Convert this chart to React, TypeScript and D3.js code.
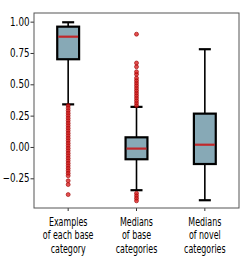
import React, { useEffect, useRef } from 'react';
import * as d3 from 'd3';

const categories = ['Examples\nof each base\ncategory', 'Medians\nof base\ncategories', 'Medians\nof novel\ncategories'];
const whiskerLow = [0.34, -0.345, -0.425];
const q1 = [0.70, -0.098, -0.136];
const medians = [0.88, -0.013, 0.018];
const q3 = [0.96, 0.077, 0.266];
const whiskerHigh = [0.995, 0.32, 0.78];
const outliersBase = [
  0.33, 0.31, 0.29, 0.27, 0.25, 0.23, 0.21, 0.19, 0.17, 0.15, 0.13, 0.11, 0.09, 0.07, 0.05, 0.03,
  0.01, -0.01, -0.03, -0.05, -0.07, -0.09, -0.11, -0.13, -0.15, -0.17, -0.19, -0.21, -0.23, -0.27,
  -0.30, -0.38,
];
const outliersBaseMedians = [
  0.33, 0.35, 0.37, 0.39, 0.41, 0.43, 0.45, 0.47, 0.49, 0.51, 0.53, 0.55, 0.58, 0.60, 0.64, 0.67,
  0.90, -0.37, -0.39, -0.41, -0.43,
];
const outliersNovel: number[] = [];
const outliers = [outliersBase, outliersBaseMedians, outliersNovel];
const yTicks = [-0.25, 0, 0.25, 0.5, 0.75, 1.0];

const App = () => {
  const ref = useRef<SVGSVGElement>(null);

  useEffect(() => {
    const svg = d3.select(ref.current);
    svg.selectAll('*').remove();

    const left = 34, right = 239, top = 13, bottom = 208;
    const font = '"DejaVu Sans", sans-serif';

    const x = d3.scaleBand().domain(categories).range([left, right]).padding(0);
    const y = d3.scaleLinear().domain([-0.487, 1.069]).range([bottom, top]);
    const boxW = x.bandwidth() * 0.32;
    const capW = boxW * 0.55;

    // y axis ticks, labels squeezed horizontally like the source image
    const yAxis = svg.append('g')
      .attr('transform', `translate(${left},0)`)
      .call(d3.axisLeft(y).tickValues(yTicks).tickSize(3.5).tickFormat(() => ''));
    yAxis.select('.domain').remove();
    yAxis.selectAll('line').attr('stroke', '#333');

    yTicks.forEach(v => {
      svg.append('g')
        .attr('transform', `translate(29.5,${y(v)}) scale(0.76,1)`)
        .append('text')
        .attr('text-anchor', 'end').attr('dy', '0.36em')
        .style('font-family', font).style('font-size', '11.5px').attr('fill', '#000')
        .text(d3.format('.2f')(v).replace('-', '\u2212'));
    });

    // x axis
    const xAxis = svg.append('g')
      .attr('transform', `translate(0,${bottom})`)
      .call(d3.axisBottom(x).tickSize(3).tickFormat(() => ''));
    xAxis.select('.domain').remove();
    xAxis.selectAll('line').attr('stroke', '#333');

    categories.forEach(c => {
      const cx = x(c)! + x.bandwidth() / 2;
      const g = svg.append('g').attr('transform', `translate(${cx},226) scale(0.69,1)`);
      c.split('\n').forEach((line, i) => {
        g.append('text')
          .attr('x', 0).attr('y', i * 13.3)
          .attr('text-anchor', 'middle')
          .style('font-family', font).style('font-size', '11.5px').attr('fill', '#000')
          .text(line);
      });
    });

    categories.forEach((c, i) => {
      const cx = x(c)! + x.bandwidth() / 2;
      const g = svg.append('g');
      // whiskers
      g.append('line').attr('x1', cx).attr('x2', cx).attr('y1', y(q3[i])).attr('y2', y(whiskerHigh[i]))
        .attr('stroke', '#000').attr('stroke-width', 1.6);
      g.append('line').attr('x1', cx).attr('x2', cx).attr('y1', y(q1[i])).attr('y2', y(whiskerLow[i]))
        .attr('stroke', '#000').attr('stroke-width', 1.6);
      [whiskerHigh[i], whiskerLow[i]].forEach(v => {
        g.append('line').attr('x1', cx - capW / 2).attr('x2', cx + capW / 2).attr('y1', y(v)).attr('y2', y(v))
          .attr('stroke', '#000').attr('stroke-width', 2.2);
      });
      // outliers
      g.selectAll('circle').data(outliers[i]).enter().append('circle')
        .attr('cx', cx).attr('cy', d => y(d)).attr('r', 2)
        .attr('fill', '#d81414').attr('fill-opacity', 0.75)
        .attr('stroke', '#9a0000').attr('stroke-opacity', 0.75).attr('stroke-width', 0.8);
      // box
      g.append('rect').attr('x', cx - boxW / 2).attr('width', boxW)
        .attr('y', y(q3[i])).attr('height', y(q1[i]) - y(q3[i]))
        .attr('fill', '#87a9b6').attr('stroke', '#000').attr('stroke-width', 2.2);
      g.append('line').attr('x1', cx - boxW / 2 + 1).attr('x2', cx + boxW / 2 - 1)
        .attr('y1', y(medians[i])).attr('y2', y(medians[i]))
        .attr('stroke', '#c0282b').attr('stroke-width', 2.2);
    });

    // frame
    svg.append('rect').attr('x', left).attr('y', top).attr('width', right - left).attr('height', bottom - top)
      .attr('fill', 'none').attr('stroke', '#555').attr('stroke-width', 1);
  }, []);

  return (
    <svg ref={ref} width={249} height={272}
      style={{ position: 'absolute', left: 0, top: 0, background: '#fff' }} />
  );
};

export default App;
